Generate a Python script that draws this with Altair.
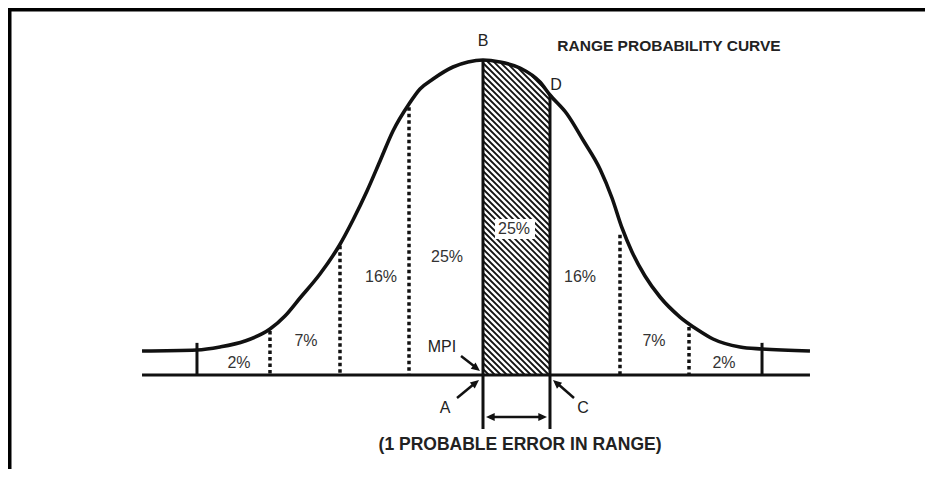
import altair as alt
import pandas as pd
import numpy as np

# ---------------- data ----------------
# x: distance from the MPI in probable errors (PE); y: height in % of the peak above the base line
curve_x = [-4.871, -4.086, -3.757, -3.400, -3.043, -2.829, -2.614, -2.329, -2.057, -1.857,
           -1.657, -1.471, -1.286, -1.057, -0.900, -0.714, -0.429, -0.214, 0.0,
           0.243, 0.529, 0.814, 0.957, 1.200, 1.429, 1.671, 1.843, 1.986, 2.129,
           2.314, 2.529, 2.814, 3.071, 3.286, 3.671, 3.986, 4.671]
curve_y = [7.62, 7.94, 8.89, 10.79, 14.60, 18.73, 24.44, 32.06, 40.95, 49.21,
           58.41, 67.94, 77.46, 86.03, 90.79, 93.97, 97.78, 99.37, 100.0,
           99.37, 97.46, 93.02, 88.89, 82.86, 74.60, 65.40, 56.19, 46.67, 39.05,
           31.43, 24.76, 18.41, 14.29, 11.43, 8.89, 8.25, 7.62]

div_x = [-3.043, -2.043, -1.057, 1.957, 2.943]      # dotted division lines
div_top = [14.0, 41.0, 85.0, 44.5, 15.2]
tick_x = [-4.086, 3.986]                            # end ticks (4 PE)
tick_top = [10.2, 10.2]
main_x = [0.0, 0.957]                               # MPI (A-B) and C-D lines
main_top = [100.0, 88.9]
main_bottom = -17.14
base_from, base_to = -4.871, 4.671

pct_text = ["2%", "7%", "16%", "25%", "25%", "16%", "7%", "2%"]
pct_x = [-3.486, -2.529, -1.457, -0.514, 0.443, 1.386, 2.443, 3.443]
pct_y = [3.81, 10.79, 31.11, 37.46, 46.35, 31.11, 10.79, 3.81]

letter_text = ["B", "D", "MPI", "A", "C"]
letter_x = [0.0, 1.043, -0.586, -0.543, 1.429]
letter_y = [106.0, 92.06, 8.89, -10.48, -10.48]

title_text = ["RANGE PROBABILITY CURVE", "(1 PROBABLE ERROR IN RANGE)"]
title_x = [2.657, 0.529]
title_y = [104.4, -22.22]
title_size = [15.5, 17.5]

shaft_x = [-0.314, -0.371, 1.300, 0.100]
shaft_y = [6.03, -7.30, -7.30, -13.33]
shaft_x2 = [-0.129, -0.129, 1.071, 0.857]
shaft_y2 = [2.86, -2.86, -2.86, -13.33]
head_x = [-0.043, -0.057, 1.000, 0.043, 0.914]
head_y = [1.27, -1.59, -1.59, -13.33, -13.33]
head_angle = [128, 51, 311, 270, 90]

# ---------------- layout / scales ----------------
W, H = 917, 461
PX_PER_PE = 70.0
PX_PER_UNIT = 3.15
MPI_PX = 475.0      # plot-x of the MPI
BASE_PX = 367.0     # plot-y of the base line
x_dom = [-MPI_PX / PX_PER_PE, (W - MPI_PX) / PX_PER_PE]
y_dom = [(BASE_PX - H) / PX_PER_UNIT, BASE_PX / PX_PER_UNIT]
xs = alt.Scale(domain=x_dom, nice=False, zero=False)
ys = alt.Scale(domain=y_dom, nice=False, zero=False)
FONT = "Liberation Sans"

curve = pd.DataFrame({"x": curve_x, "y": curve_y})

# hatch texture (45 deg) inside the A-B-D-C strip, masked above the curve later
step = 6.0 / PX_PER_PE
x_lo, x_hi = main_x
y_lo, y_hi = 0.0, 101.0
k = PX_PER_PE / PX_PER_UNIT
rows = []
c_vals = np.arange(y_lo, y_hi + k * (x_hi - x_lo) + k * step, k * step)
for c in c_vals:
    xa = x_lo + max(0.0, (c - y_hi) / k)
    xb = min(x_hi, x_lo + (c - y_lo) / k)
    if xb > xa:
        rows.append({"x": xa, "y": c - k * (xa - x_lo), "x2": xb, "y2": c - k * (xb - x_lo)})
hatch = pd.DataFrame(rows)

mask = curve[(curve.x >= -0.5) & (curve.x <= 1.5)].copy()
mask["top"] = y_dom[1]

X = lambda f="x": alt.X(f"{f}:Q", scale=xs, axis=None)
Y = lambda f="y": alt.Y(f"{f}:Q", scale=ys, axis=None)

hatch_l = alt.Chart(hatch).mark_rule(color="#111", strokeWidth=1.8).encode(
    x=X(), y=Y(), x2="x2:Q", y2="y2:Q")
mask_l = alt.Chart(mask).mark_area(color="white", interpolate="monotone").encode(
    x=X(), y=Y(), y2="top:Q")
box = pd.DataFrame({"x": [0.171], "x2": [0.743], "y": [43.2], "y2": [49.5]})
box_l = alt.Chart(box).mark_rect(color="white").encode(x=X(), x2="x2:Q", y=Y(), y2="y2:Q")

curve_l = alt.Chart(curve).mark_line(color="#111", strokeWidth=3.6, interpolate="monotone").encode(
    x=X(), y=Y())

base_l = alt.Chart(pd.DataFrame({"x": [base_from], "x2": [base_to], "y": [0.0]})).mark_rule(
    color="#111", strokeWidth=3).encode(x=X(), x2="x2:Q", y=Y())
main_l = alt.Chart(pd.DataFrame({"x": main_x, "y": main_top, "y2": [main_bottom] * 2})).mark_rule(
    color="#111", strokeWidth=3).encode(x=X(), y=Y(), y2="y2:Q")
tick_l = alt.Chart(pd.DataFrame({"x": tick_x, "y": tick_top, "y2": [0.0] * 2})).mark_rule(
    color="#111", strokeWidth=3).encode(x=X(), y=Y(), y2="y2:Q")
div_l = alt.Chart(pd.DataFrame({"x": div_x, "y": div_top, "y2": [0.0] * 5})).mark_rule(
    color="#111", strokeWidth=3.5, strokeDash=[3.5, 3]).encode(x=X(), y=Y(), y2="y2:Q")

pct_l = alt.Chart(pd.DataFrame({"x": pct_x, "y": pct_y, "t": pct_text})).mark_text(
    font=FONT, fontSize=16, color="#333", baseline="middle", align="center").encode(
    x=X(), y=Y(), text="t:N")
let_l = alt.Chart(pd.DataFrame({"x": letter_x, "y": letter_y, "t": letter_text})).mark_text(
    font=FONT, fontSize=16, color="#222", baseline="middle", align="center").encode(
    x=X(), y=Y(), text="t:N")
tit_l = alt.Chart(pd.DataFrame({"x": title_x, "y": title_y, "t": title_text, "s": title_size})).mark_text(
    font=FONT, fontWeight="bold", color="#222", baseline="middle", align="center").encode(
    x=X(), y=Y(), text="t:N", size=alt.Size("s:Q", scale=None))

shaft_l = alt.Chart(pd.DataFrame({"x": shaft_x, "y": shaft_y, "x2": shaft_x2, "y2": shaft_y2})).mark_rule(
    color="#111", strokeWidth=2.5).encode(x=X(), y=Y(), x2="x2:Q", y2="y2:Q")
head_l = alt.Chart(pd.DataFrame({"x": head_x, "y": head_y, "a": head_angle})).mark_point(
    shape="M0,0L-0.45,1L0.45,1Z", filled=True, color="#111", opacity=1, size=300, strokeWidth=0).encode(
    x=X(), y=Y(), angle=alt.Angle("a:Q", scale=None))

frame = alt.Data(values=[{}])
top_l = alt.Chart(frame).mark_rule(color="black", strokeWidth=4).encode(
    x=alt.value(0), x2=alt.value(W), y=alt.value(1.5))
left_l = alt.Chart(frame).mark_rule(color="black", strokeWidth=4).encode(
    x=alt.value(1.5), y=alt.value(0), y2=alt.value(H))

chart = alt.layer(
    hatch_l, mask_l, box_l, curve_l, base_l, main_l, tick_l, div_l,
    pct_l, let_l, tit_l, shaft_l, head_l, top_l, left_l
).properties(
    width=W, height=H, padding=0, autosize=alt.AutoSizeParams(type="none"),
    background="white"
).configure_view(stroke=None)

chart.save("out.html", embed_options={"renderer": "svg", "actions": False})
